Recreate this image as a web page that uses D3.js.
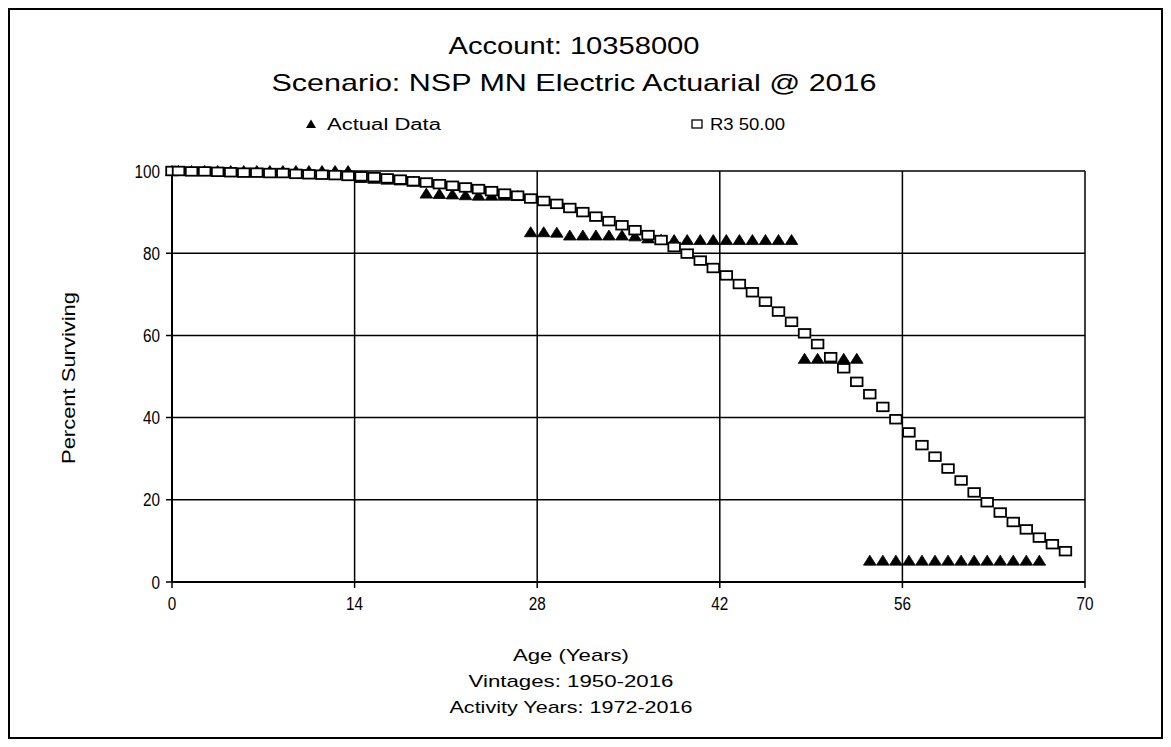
<!DOCTYPE html>
<html><head><meta charset="utf-8">
<script src="https://cdn.jsdelivr.net/npm/d3@7"></script>
<style>body{margin:0;background:#fff}svg{display:block}text{font-family:"Liberation Sans",Arial,sans-serif;fill:#000}</style>
</head><body>
<svg id="c" width="1171" height="747"></svg>
<script>
const titleLines = ["Account: 10358000", "Scenario: NSP MN Electric Actuarial @ 2016"];
const legendLabels = ["Actual Data", "R3 50.00"];
const xLabelLines = ["Age (Years)", "Vintages: 1950-2016", "Activity Years: 1972-2016"];
const yLabel = "Percent Surviving";
const xTicks = [0, 14, 28, 42, 56, 70];
const yTicks = [0, 20, 40, 60, 80, 100];

const r3Ages = [0,0.5,1.5,2.5,3.5,4.5,5.5,6.5,7.5,8.5,9.5,10.5,11.5,12.5,13.5,14.5,15.5,16.5,17.5,18.5,19.5,20.5,21.5,22.5,23.5,24.5,25.5,26.5,27.5,28.5,29.5,30.5,31.5,32.5,33.5,34.5,35.5,36.5,37.5,38.5,39.5,40.5,41.5,42.5,43.5,44.5,45.5,46.5,47.5,48.5,49.5,50.5,51.5,52.5,53.5,54.5,55.5,56.5,57.5,58.5,59.5,60.5,61.5,62.5,63.5,64.5,65.5,66.5,67.5,68.5];
const r3Values = [100,100,99.9,99.9,99.8,99.7,99.6,99.6,99.5,99.5,99.3,99.2,99.1,99.0,98.8,98.7,98.5,98.2,97.9,97.5,97.2,96.8,96.4,96.0,95.6,95.1,94.5,94.0,93.3,92.7,92.0,91.0,90.0,88.9,87.8,86.8,85.6,84.4,83.2,81.5,79.9,78.2,76.4,74.6,72.5,70.5,68.2,65.8,63.3,60.5,57.9,54.7,52.0,48.7,45.7,42.6,39.6,36.4,33.3,30.5,27.6,24.7,21.8,19.4,16.9,14.6,12.8,10.8,9.2,7.5];

const actualAges = [0,0.5,1.5,2.5,3.5,4.5,5.5,6.5,7.5,8.5,9.5,10.5,11.5,12.5,13.5,14.5,15.5,16.5,17.5,18.5,19.5,20.5,21.5,22.5,23.5,24.5,25.5,26.5,27.5,28.5,29.5,30.5,31.5,32.5,33.5,34.5,35.5,36.5,37.5,38.5,39.5,40.5,41.5,42.5,43.5,44.5,45.5,46.5,47.5,48.5,49.5,50.5,51.5,52.5,53.5,54.5,55.5,56.5,57.5,58.5,59.5,60.5,61.5,62.5,63.5,64.5,65.5,66.5];
const actualValues = [100,100,100,100,100,100,100,100,100,100,100,100,100,100,100,98.3,98.1,97.9,97.7,97.4,94.5,94.4,94.3,94.1,94.0,94.0,94.0,93.9,85.1,85.1,85.0,84.3,84.3,84.3,84.3,84.3,84.1,83.6,83.3,83.2,83.2,83.2,83.2,83.2,83.2,83.2,83.2,83.2,83.2,54.3,54.3,54.3,54.3,54.3,5.2,5.2,5.2,5.2,5.2,5.2,5.2,5.2,5.2,5.2,5.2,5.2,5.2,5.2];

const svg = d3.select("#c");
svg.append("rect").attr("x", 9).attr("y", 9).attr("width", 1153).attr("height", 729)
  .attr("fill", "none").attr("stroke", "#000").attr("stroke-width", 2);

const x = d3.scaleLinear().domain([0, 70]).range([172, 1085]);
const y = d3.scaleLinear().domain([0, 100]).range([582, 171]);

// grid
const g = svg.append("g");
g.selectAll("line.gx").data(xTicks).join("line")
  .attr("x1", d => x(d)).attr("x2", d => x(d)).attr("y1", y(100)).attr("y2", y(0) + 6)
  .attr("stroke", "#000").attr("stroke-width", 1.5);
g.selectAll("line.gy").data(yTicks).join("line")
  .attr("x1", x(0) - 6).attr("x2", x(70)).attr("y1", d => y(d)).attr("y2", d => y(d))
  .attr("stroke", "#000").attr("stroke-width", 1.5);
g.append("line").attr("x1", x(0)).attr("x2", x(0)).attr("y1", y(100)).attr("y2", y(0)).attr("stroke", "#000").attr("stroke-width", 2);
g.append("line").attr("x1", x(0)).attr("x2", x(70)).attr("y1", y(0)).attr("y2", y(0)).attr("stroke", "#000").attr("stroke-width", 2);

// tick labels
svg.selectAll("text.xt").data(xTicks).join("text")
  .attr("x", d => x(d)).attr("y", 610).attr("text-anchor", "middle")
  .attr("textLength", d => String(d).length * 8.5).attr("lengthAdjust", "spacingAndGlyphs")
  .style("font-size", "18px").text(d => d);
svg.selectAll("text.yt").data(yTicks).join("text")
  .attr("x", 160).attr("y", d => y(d) + 6.5).attr("text-anchor", "end")
  .attr("textLength", d => String(d).length * 8.5).attr("lengthAdjust", "spacingAndGlyphs")
  .style("font-size", "18px").text(d => d);

// actual data triangles
const triPath = "M0,-5.5L6.3,4.5L-6.3,4.5Z";
svg.append("g").selectAll("path").data(actualAges.map((a, i) => [a, actualValues[i]])).join("path")
  .attr("d", triPath).attr("transform", d => `translate(${x(d[0])},${y(d[1])})`)
  .attr("fill", "#000").attr("stroke", "#000").attr("stroke-width", 0.8);

// R3 squares
svg.append("g").selectAll("rect").data(r3Ages.map((a, i) => [a, r3Values[i]])).join("rect")
  .attr("x", d => x(d[0]) - 5.8).attr("y", d => y(d[1]) - 4.3)
  .attr("width", 11.6).attr("height", 8.6)
  .attr("fill", "#fff").attr("stroke", "#000").attr("stroke-width", 1.8);

// titles
const tl = [[54, 251, 24], [91, 605, 24]];
titleLines.forEach((t, i) => {
  svg.append("text").attr("x", 574).attr("y", tl[i][0]).attr("text-anchor", "middle")
    .attr("textLength", tl[i][1]).attr("lengthAdjust", "spacingAndGlyphs")
    .style("font-size", tl[i][2] + "px").text(t);
});

// legend
svg.append("path").attr("d", "M0,-4.5L5,4L-5,4Z").attr("transform", "translate(311,124)").attr("fill", "#000");
svg.append("text").attr("x", 327).attr("y", 130).attr("textLength", 114).attr("lengthAdjust", "spacingAndGlyphs")
  .style("font-size", "16px").text(legendLabels[0]);
svg.append("rect").attr("x", 692).attr("y", 120).attr("width", 10).attr("height", 8)
  .attr("fill", "#fff").attr("stroke", "#000").attr("stroke-width", 1.3);
svg.append("text").attr("x", 710).attr("y", 130).attr("textLength", 75).attr("lengthAdjust", "spacingAndGlyphs")
  .style("font-size", "16px").text(legendLabels[1]);

// x axis title lines
const xl = [[661, 116], [687, 205], [713, 243]];
xLabelLines.forEach((t, i) => {
  svg.append("text").attr("x", 571).attr("y", xl[i][0]).attr("text-anchor", "middle")
    .attr("textLength", xl[i][1]).attr("lengthAdjust", "spacingAndGlyphs")
    .style("font-size", "17px").text(t);
});

// y axis title
svg.append("text").attr("transform", "translate(75,378) rotate(-90)").attr("text-anchor", "middle")
  .attr("textLength", 172).attr("lengthAdjust", "spacingAndGlyphs")
  .style("font-size", "19px").text(yLabel);
</script>
</body></html>
